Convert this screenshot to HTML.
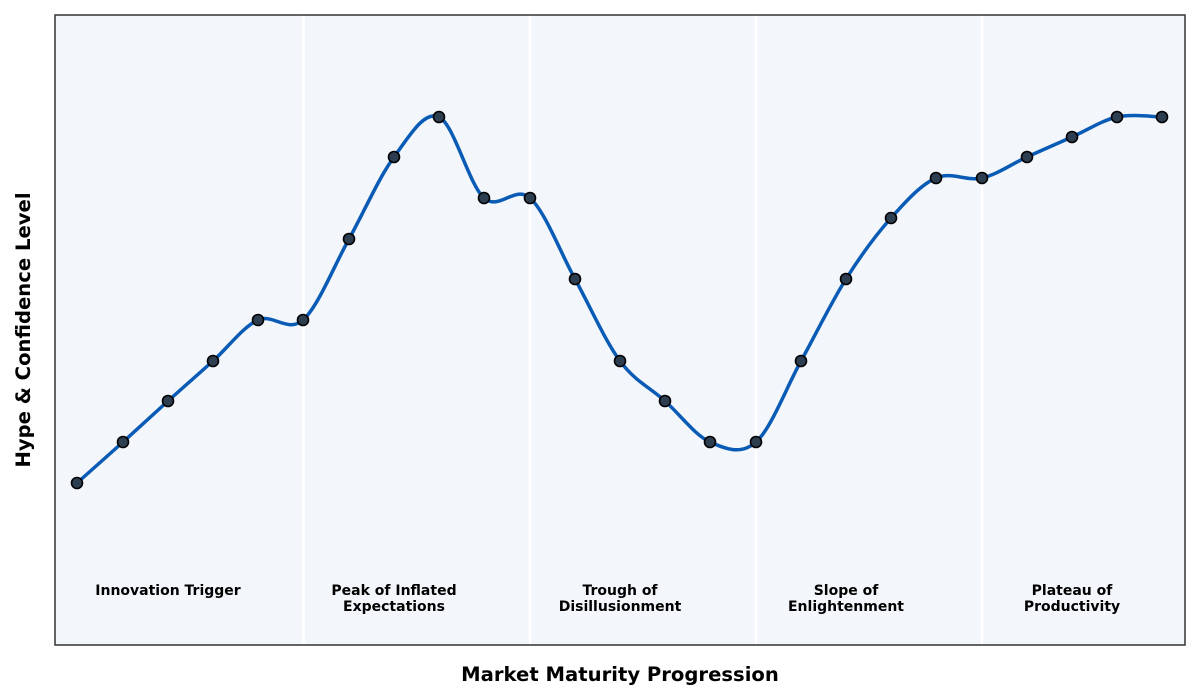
<!DOCTYPE html>
<html><head><meta charset="utf-8"><style>
html,body{margin:0;padding:0;background:#fff;}
svg{display:block;font-family:"DejaVu Sans","Liberation Sans",sans-serif;}
</style></head><body>
<svg id="s" width="1200" height="700" xmlns="http://www.w3.org/2000/svg">
<rect x="55" y="15" width="1130" height="630" fill="#f3f6fa"/>
<g stroke="#ffffff" stroke-width="2.5">
<line x1="303.5" y1="15" x2="303.5" y2="645"/>
<line x1="530" y1="15" x2="530" y2="645"/>
<line x1="756" y1="15" x2="756" y2="645"/>
<line x1="982" y1="15" x2="982" y2="645"/>
</g>
<path id="curve" d="" fill="none" stroke="#0a5bb5" stroke-width="3.5" stroke-linejoin="round"/>
<g id="pts" fill="#2d3e50" stroke="#000" stroke-width="1.6"></g>
<rect x="55" y="15" width="1130" height="630" fill="none" stroke="#333" stroke-width="1.5"/>
<g font-size="14" font-weight="bold" text-anchor="middle" fill="#000">
<text x="168" y="595">Innovation Trigger</text>
<text x="394" y="595">Peak of Inflated</text><text x="394" y="611">Expectations</text>
<text x="620" y="595">Trough of</text><text x="620" y="611">Disillusionment</text>
<text x="846" y="595">Slope of</text><text x="846" y="611">Enlightenment</text>
<text x="1072" y="595">Plateau of</text><text x="1072" y="611">Productivity</text>
</g>
<text x="620" y="681" font-size="19.6" font-weight="bold" text-anchor="middle">Market Maturity Progression</text>
<text transform="translate(30,330) rotate(-90)" font-size="19.6" font-weight="bold" text-anchor="middle">Hype &amp; Confidence Level</text>
</svg>
<script>
var xs=[77,123,168,213,258,303,349,394,439,484,530,575,620,665,710,756,801,846,891,936,982,1027,1072,1117,1162];
var ys=[483,442,401,361,320,320,239,157,117,198,198,279,361,401,442,442,361,279,218,178,178,157,137,117,117];
var n=xs.length,d="M"+xs[0]+","+ys[0];
for(var i=0;i<n-1;i++){
 var p0=i>0?i-1:i,p3=i+2<n?i+2:i+1;
 var c1x=xs[i]+(xs[i+1]-xs[p0])/6,c1y=ys[i]+(ys[i+1]-ys[p0])/6;
 var c2x=xs[i+1]-(xs[p3]-xs[i])/6,c2y=ys[i+1]-(ys[p3]-ys[i])/6;
 d+=" C"+c1x+","+c1y+" "+c2x+","+c2y+" "+xs[i+1]+","+ys[i+1];
}
document.getElementById("curve").setAttribute("d",d);
var g=document.getElementById("pts"),h="";
for(var i=0;i<n;i++)h+='<circle cx="'+xs[i]+'" cy="'+ys[i]+'" r="5.5"/>';
g.innerHTML=h;
</script>
</body></html>
